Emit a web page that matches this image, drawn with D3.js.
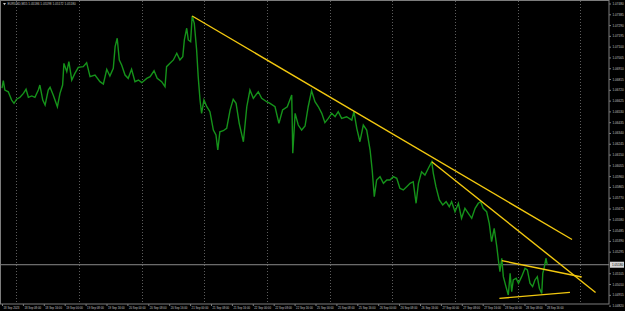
<!DOCTYPE html>
<html>
<head>
<meta charset="utf-8">
<script src="https://cdn.jsdelivr.net/npm/d3@7"></script>
<style>
  html, body { margin: 0; padding: 0; background: #000; }
  svg { display: block; }
  text { font-family: "Liberation Sans", Arial, sans-serif; }
</style>
</head>
<body>
<div id="grafico"></div>
<script>
// 1. Configuracion
COLOR_FONDO   = '#000000'
COLOR_PRECIO  = '#15921a'
COLOR_LINEAS  = '#f2c80f'
COLOR_EJE     = '#7c7c7c'
COLOR_GRID    = '#5c5c5c'
COLOR_TEXTO   = '#c4c4c4'

ancho_total = 625
alto_total  = 311
eje_x_pos   = 609   // borde del eje de precios
eje_y_pos   = 304   // borde del eje de tiempo

// 2. Datos (horas de mercado desde 18 Sep 00:00, precio EURUSD)
titulo = 'EURUSD,M15  1.05186 1.05198 1.05172 1.05180'

horas = [
  0,0.5,1.1,2.4,3.7,4.6,5.6,6.9,8.2,9.2,
  10.1,11.4,12.6,13.9,14.5,15.6,16.5,17.7,18.4,19.6,
  21.2,22.2,23.2,23.7,24.8,25.6,26.7,27.9,29.2,31.1,
  32.4,33.7,35.6,37.5,38.8,40.1,41.3,42.6,43.3,44.1,
  44.9,45.8,47.1,48.3,49.6,50.9,52.2,53.5,55.4,56.7,
  58.2,59.4,61.1,62.4,63.0,64.3,65.6,66.9,68.1,69.2,
  69.8,70.7,71.3,72.2,72.8,73.6,74.5,75.1,75.8,76.4,
  77.3,78.4,79.6,80.9,81.9,82.6,83.4,84.7,86.0,87.3,
  88.5,89.6,90.8,92.4,93.7,94.9,96.2,98.1,99.4,101.3,
  102.6,104.5,106.0,107.4,109.2,110.9,111.3,112.2,113.4,114.7,
  116.0,117.2,118.5,119.8,121.1,122.4,123.6,124.9,126.2,127.5,
  128.7,130.0,131.9,133.9,134.7,135.8,137.0,138.3,139.6,140.9,
  141.7,142.5,143.4,144.7,146.0,147.3,148.5,149.8,151.1,152.3,
  153.6,154.9,156.2,157.4,158.5,159.4,160.6,161.9,163.2,164.5,
  165.1,166.1,167.4,168.7,170.0,171.2,172.1,173.4,174.7,175.9,
  177.2,178.5,179.8,181.1,182.3,183.2,184.2,185.5,186.5,187.4,
  188.4,189.4,190.0,190.6,191.3,191.9,192.9,193.8,194.5,195.1,
  195.7,196.8,197.7,198.9,200.2,201.1,202.1,203.1,204.0,204.9,
  205.7,206.6,207.0,207.5,208.2,208.7
]

precios = [
  1.06736,1.06800,1.06718,1.06703,1.06630,1.06601,1.06637,1.06654,1.06689,1.06725,
  1.06654,1.06666,1.06654,1.06718,1.06762,1.06630,1.06586,1.06718,1.06742,1.06674,
  1.06571,1.06689,1.06762,1.06953,1.06880,1.06968,1.06806,1.06865,1.06918,1.06924,
  1.06959,1.06836,1.06850,1.06792,1.06771,1.06901,1.06842,1.06910,1.07100,1.07174,
  1.06983,1.06939,1.06850,1.06821,1.06901,1.06792,1.06806,1.06783,1.06821,1.06836,
  1.06888,1.06821,1.06792,1.06747,1.06924,1.06953,1.06983,1.07042,1.06983,1.07012,
  1.07159,1.07262,1.07159,1.07144,1.07370,1.07306,1.07071,1.06836,1.06630,1.06513,
  1.06630,1.06571,1.06527,1.06366,1.06322,1.06190,1.06351,1.06360,1.06381,1.06542,
  1.06637,1.06601,1.06425,1.06263,1.06571,1.06718,1.06645,1.06703,1.06645,1.06615,
  1.06601,1.06571,1.06425,1.06542,1.06571,1.06674,1.06161,1.06513,1.06410,1.06366,
  1.06401,1.06571,1.06712,1.06615,1.06571,1.06513,1.06431,1.06469,1.06513,1.06483,
  1.06527,1.06469,1.06483,1.06454,1.06527,1.06381,1.06263,1.06410,1.06366,1.06190,
  1.06014,1.05779,1.05926,1.05955,1.05897,1.05926,1.05926,1.05955,1.05941,1.05853,
  1.05838,1.05867,1.05897,1.05911,1.05721,1.05897,1.05999,1.05970,1.06029,1.06087,
  1.05985,1.05867,1.05750,1.05706,1.05735,1.05691,1.05735,1.05647,1.05721,1.05589,
  1.05677,1.05633,1.05589,1.05677,1.05721,1.05735,1.05677,1.05647,1.05545,1.05383,
  1.05501,1.05339,1.05222,1.05119,1.05237,1.05075,1.04987,1.04914,1.05105,1.04943,
  1.05046,1.05061,1.05017,1.05075,1.05149,1.05134,1.05017,1.04987,1.05046,1.05075,
  1.04973,1.04928,1.05105,1.05149,1.05237,1.05180
]

precio_actual = 1.05180

// lineas de tendencia: [hora, precio] inicio -> fin
tend_hora_ini   = [72.8, 164.5, 191.3, 190.4]
tend_precio_ini = [1.07370, 1.06087, 1.05216, 1.04884]
tend_hora_fin   = [218.2, 227.2, 221.9, 217.4]
tend_precio_fin = [1.05402, 1.04936, 1.05072, 1.04937]

// etiquetas del eje de precios (la del precio actual tapa la que coincide)
precios_ticks = d3.range(0, 29).map(k => +(1.07480 - 0.00095 * k).toFixed(5))
  .filter(p => Math.abs(p - precio_actual) > 0.0004)

// etiquetas del eje de tiempo (cada 8 horas de mercado)
horas_ticks = d3.range(0, 27).map(k => k * 8)
etiquetas_tiempo = [
  '18 Sep 2023','18 Sep 08:00','18 Sep 16:00',
  '19 Sep 00:00','19 Sep 08:00','19 Sep 16:00',
  '20 Sep 00:00','20 Sep 08:00','20 Sep 16:00',
  '21 Sep 00:00','21 Sep 08:00','21 Sep 16:00',
  '22 Sep 00:00','22 Sep 08:00','22 Sep 16:00',
  '25 Sep 00:00','25 Sep 08:00','25 Sep 16:00',
  '26 Sep 00:00','26 Sep 08:00','26 Sep 16:00',
  '27 Sep 00:00','27 Sep 08:00','27 Sep 16:00',
  '28 Sep 00:00','28 Sep 08:00','28 Sep 16:00'
]
// lineas verticales de la rejilla (una por dia)
horas_grid = d3.range(0, 10).map(k => 5.4 + 24 * k)

// 3. Escalas
fx = d3.scaleLinear().domain([0, 208]).range([2, 2 + 208 * 2.6125])
fy = d3.scaleLinear().domain([1.07480, 1.04820]).range([3.5, 3.5 + 28 * 10.79])

svg = d3.select('#grafico').append('svg')
  .attr('width', ancho_total)
  .attr('height', alto_total)
  .style('background', COLOR_FONDO)

// rejilla
svg.append('g').selectAll('line').data(horas_grid).enter()
  .append('line')
  .attr('x1', d => Math.round(fx(d)) + 0.5)
  .attr('x2', d => Math.round(fx(d)) + 0.5)
  .attr('y1', 1)
  .attr('y2', eje_y_pos)
  .attr('stroke', COLOR_GRID)
  .attr('stroke-width', 1)
  .attr('stroke-dasharray', '1,2')

// marco
svg.append('rect')
  .attr('x', 0.5).attr('y', 0.5)
  .attr('width', eje_x_pos - 0.5)
  .attr('height', eje_y_pos - 0.5)
  .attr('fill', 'none')
  .attr('stroke', COLOR_EJE)
  .attr('stroke-width', 1)

// linea de precio actual
svg.append('line')
  .attr('x1', 1).attr('x2', eje_x_pos)
  .attr('y1', fy(precio_actual)).attr('y2', fy(precio_actual))
  .attr('stroke', '#8a8a8a')
  .attr('stroke-width', 1)

// serie de precio
datos = horas.map((h, i) => [h, precios[i]])
linea = d3.line().x(d => fx(d[0])).y(d => fy(d[1]))
svg.append('path')
  .datum(datos)
  .attr('d', linea)
  .attr('fill', 'none')
  .attr('stroke', COLOR_PRECIO)
  .attr('stroke-width', 1.4)
  .attr('stroke-linejoin', 'miter')

// lineas de tendencia
svg.append('g').selectAll('line').data(tend_hora_ini).enter()
  .append('line')
  .attr('x1', (d, i) => fx(tend_hora_ini[i]))
  .attr('y1', (d, i) => fy(tend_precio_ini[i]))
  .attr('x2', (d, i) => fx(tend_hora_fin[i]))
  .attr('y2', (d, i) => fy(tend_precio_fin[i]))
  .attr('stroke', COLOR_LINEAS)
  .attr('stroke-width', 1.4)

// eje de precios
eje_p = svg.append('g')
  .attr('transform', `translate(${eje_x_pos}, 0)`)
  .call(d3.axisRight(fy).tickValues(precios_ticks).tickFormat(d3.format('.5f')).tickSize(2).tickPadding(1.5))
eje_p.select('.domain').remove()
eje_p.selectAll('line').attr('stroke', COLOR_EJE)
eje_p.selectAll('text')
  .attr('fill', COLOR_TEXTO)
  .attr('font-size', '3.1px')
  .attr('font-family', '"Liberation Sans", Arial, sans-serif')

// etiqueta del precio actual
g_actual = svg.append('g').attr('transform', `translate(${eje_x_pos + 1}, ${fy(precio_actual)})`)
g_actual.append('rect')
  .attr('x', 0).attr('y', -3).attr('width', 14).attr('height', 6)
  .attr('fill', '#d6d6d6')
g_actual.append('text')
  .attr('x', 2).attr('y', 1.1)
  .attr('font-size', '3.1px')
  .attr('fill', '#000')
  .text(d3.format('.5f')(precio_actual))

// eje de tiempo
eje_t = svg.append('g')
  .attr('transform', `translate(0, ${eje_y_pos})`)
  .call(d3.axisBottom(fx).tickValues(horas_ticks).tickFormat((d, i) => etiquetas_tiempo[i]).tickSize(2))
eje_t.select('.domain').remove()
eje_t.selectAll('line').attr('stroke', COLOR_EJE)
eje_t.selectAll('text')
  .attr('text-anchor', 'start')
  .attr('x', 1)
  .attr('y', 2.6)
  .attr('fill', COLOR_TEXTO)
  .attr('font-size', '2.8px')
  .attr('font-family', '"Liberation Sans", Arial, sans-serif')

// titulo
svg.append('path')
  .attr('d', 'M3,3 L6,3 L4.5,5.2 Z')
  .attr('fill', COLOR_TEXTO)
svg.append('text')
  .attr('x', 7.5).attr('y', 5.3)
  .attr('font-size', '3.1px')
  .attr('fill', COLOR_TEXTO)
  .text(titulo)
</script>
</body>
</html>
